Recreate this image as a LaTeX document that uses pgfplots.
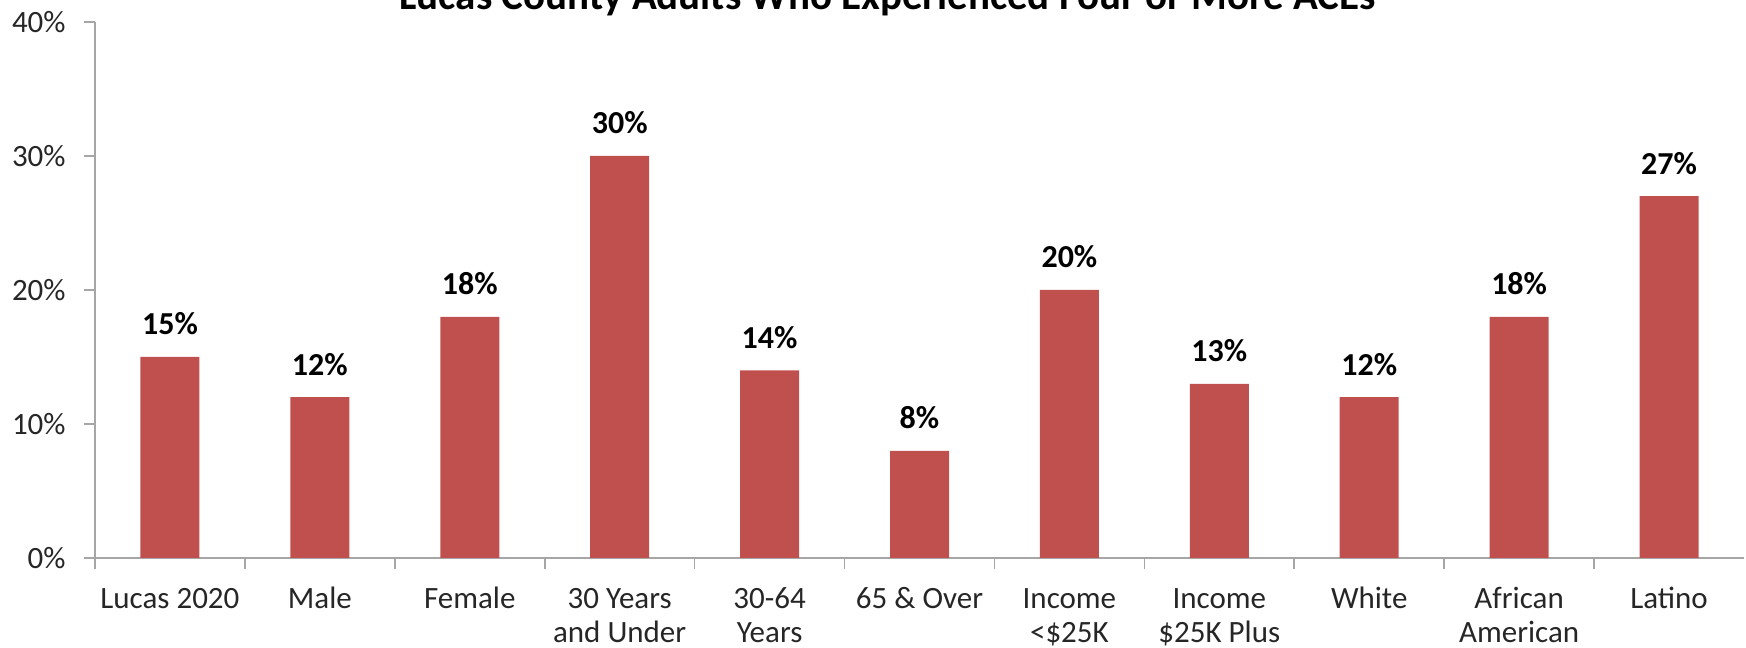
\documentclass[border=0pt]{standalone}
\usepackage{fontspec}
\setmainfont{Carlito}
\usepackage{pgfplots}
\pgfplotsset{compat=1.18}
\definecolor{barred}{HTML}{C0504D}
\definecolor{axgray}{HTML}{A6A6A6}
\definecolor{txt}{HTML}{262626}
\begin{document}
\begin{tikzpicture}
\begin{axis}[
  name=ax, at={(0,0)}, anchor=south west,
  scale only axis, width=824.5pt, height=268pt,
  ymin=0, ymax=40, xmin=-0.5, xmax=10.5,
  ybar, bar width=29.5pt,
  axis lines*=left,
  axis line style={axgray, line width=0.8pt},
  tick style={axgray, line width=0.8pt},
  tick align=outside,
  major tick length=5.5pt,
  ytick={0,10,20,30,40},
  yticklabels={0\%,10\%,20\%,30\%,40\%},
  yticklabel style={font=\fontsize{15.5}{17}\selectfont, text=txt, inner sep=0pt, anchor=east, xshift=-9pt},
  xtick={-0.5,0.5,...,9.5},
  xticklabels={},
  extra x ticks={0,1,2,3,4,5,6,7,8,9,10},
  extra x tick labels={\strut Lucas 2020, \strut Male, \strut Female, \strut 30 Years\\and Under, \strut 30-64\\Years, \strut 65 \& Over, \strut Income\\<\$25K, \strut Income\\\$25K Plus, \strut White, \strut African\\American, \strut Latino},
  extra x tick style={major tick length=0pt, tick style={draw=none},
    xticklabel style={font=\fontsize{15.5}{17}\selectfont, text=txt, align=center, inner sep=0pt, anchor=north, yshift=-13.1pt}},
  point meta=explicit symbolic,
  nodes near coords={\pgfplotspointmeta},
  every node near coord/.append style={font=\bfseries\fontsize{16}{18}\selectfont, text=black, anchor=base, yshift=11pt, inner sep=0pt},
  clip=false,
]
\addplot[fill=barred, draw=none] coordinates {
  (0,15) [15\%]
  (1,12) [12\%]
  (2,18) [18\%]
  (3,30) [30\%]
  (4,14) [14\%]
  (5,8) [8\%]
  (6,20) [20\%]
  (7,13) [13\%]
  (8,12) [12\%]
  (9,18) [18\%]
  (10,27) [27\%]
};
\end{axis}
\node[anchor=base, font=\bfseries\fontsize{20.5}{24}\selectfont, text=black, inner sep=0pt] at (396.25pt,274pt) {Lucas County Adults Who Experienced Four or More ACEs};
\pgfresetboundingbox
\path (-47.5pt,-45pt) rectangle (825.5pt,279pt);
\end{tikzpicture}
\end{document}
